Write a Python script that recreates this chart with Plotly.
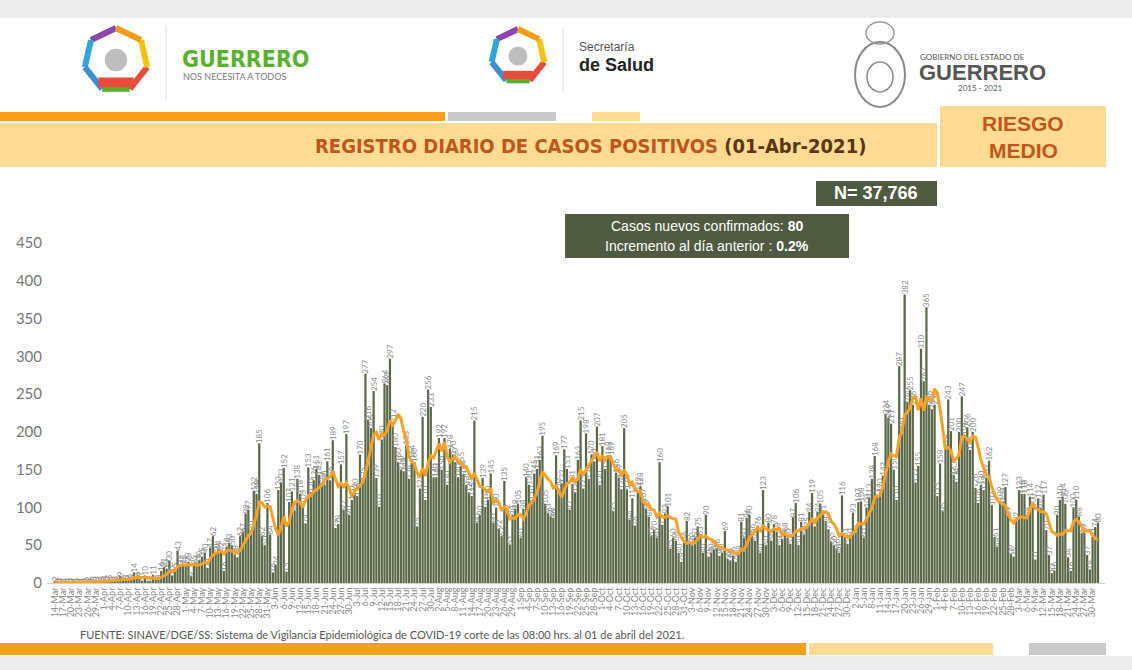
import math
import pandas as pd
import plotly.graph_objects as go

# ---------------- data (daily positive cases, Guerrero) ----------------
inicio = "2020-03-14"
mar_2020 = [2, 0, 0, 1, 1, 0, 0, 1, 0, 1, 1, 0, 2, 1, 3, 3, 2, 3]
abr_2020 = [4, 3, 5, 3, 2, 4, 9, 5, 5, 6, 5, 14, 8, 9, 3, 10, 3, 3, 11, 5,
            5, 16, 21, 19, 30, 10, 15, 43, 25, 25]
may_2020 = [23, 28, 9, 25, 26, 30, 35, 40, 20, 47, 62, 40, 44, 42, 16, 48, 53, 50, 38, 34,
            62, 67, 92, 97, 70, 122, 118, 185, 62, 50, 106]
jun_2020 = [64, 14, 24, 123, 133, 152, 15, 107, 121, 96, 138, 118, 105, 79, 153, 120, 136, 151, 143, 128,
            130, 161, 136, 189, 73, 78, 157, 97, 197, 90]
jul_2020 = [110, 120, 115, 170, 135, 277, 216, 205, 254, 139, 101, 190, 264, 262, 297, 212, 180, 160, 150, 148,
            183, 138, 164, 160, 75, 125, 220, 110, 256, 233, 140]
ago_2020 = [140, 192, 150, 192, 130, 178, 170, 160, 140, 155, 144, 130, 120, 115, 215, 80, 90, 139, 101, 110,
            145, 80, 100, 72, 62, 135, 92, 51, 90, 98, 105]
sep_2020 = [60, 98, 140, 130, 110, 145, 151, 163, 195, 105, 93, 88, 86, 169, 120, 132, 177, 151, 97, 131,
            120, 163, 215, 125, 198, 138, 170, 161, 207, 130]
oct_2020 = [181, 151, 169, 169, 95, 146, 139, 124, 205, 124, 84, 112, 76, 122, 128, 107, 98, 88, 62, 70,
            60, 160, 77, 92, 101, 45, 60, 56, 40, 28, 56]
nov_2020 = [82, 55, 50, 60, 75, 63, 40, 90, 35, 40, 44, 46, 36, 40, 69, 32, 30, 36, 28, 38,
            81, 60, 86, 90, 66, 56, 76, 40, 123, 50]
dic_2020 = [80, 56, 78, 68, 50, 58, 68, 60, 52, 87, 106, 50, 81, 64, 75, 94, 119, 75, 94, 105,
            91, 82, 71, 55, 50, 46, 40, 116, 61, 52, 60]
ene_2021 = [93, 66, 107, 108, 60, 100, 113, 138, 168, 113, 120, 142, 224, 219, 211, 150, 110, 287, 200, 382,
            240, 255, 236, 133, 155, 310, 267, 365, 236, 230, 236]
feb_2021 = [115, 158, 95, 178, 243, 201, 143, 134, 200, 247, 196, 206, 176, 200, 126, 106, 130, 123, 139, 162,
            103, 61, 48, 109, 108, 127, 89, 39]
mar_2021 = [35, 82, 123, 118, 118, 88, 114, 100, 31, 112, 99, 117, 70, 37, 13, 16, 90, 110, 114, 105,
            34, 16, 100, 110, 88, 66, 67, 37, 18, 61, 74]
abr_2021 = [80]

casos = (mar_2020 + abr_2020 + may_2020 + jun_2020 + jul_2020 + ago_2020 + sep_2020 +
         oct_2020 + nov_2020 + dic_2020 + ene_2021 + feb_2021 + mar_2021 + abr_2021)
fechas = pd.date_range(inicio, periods=len(casos), freq="D")
promedio = pd.Series(casos).rolling(7, min_periods=1).mean()

tick_fechas = list(fechas[::3])
tick_textos = [f"{d.day}-{d.strftime('%b')}" for d in tick_fechas]

titulo = "REGISTRO DIARIO DE CASOS POSITIVOS"
fecha_corte = "(01-Abr-2021)"
total_n = "N= 37,766"
nuevos = 80
incremento = "0.2%"
fuente = ("FUENTE: SINAVE/DGE/SS: Sistema de Vigilancia Epidemiológica de COVID-19 "
          "corte de las 08:00 hrs. al 01 de abril del 2021.")

# ---------------- geometry helpers ----------------
W, H = 1132, 670
L, R, T, B = 47, 27, 243, 87
PW, PH = W - L - R, H - T - B


def fx(x):
    return (x - L) / PW


def fy(y):
    return (H - B - y) / PH


OLIVA = "#5b6847"
NARANJA = "#f9a01b"
AMARILLO = "#fddb92"
GRIS = "#c9c9c9"
OXIDO = "#c0561b"

fig = go.Figure()

fig.add_trace(go.Bar(
    x=fechas, y=casos,
    marker=dict(color=OLIVA, line=dict(width=0)),
    text=[str(v) for v in casos],
    textposition="outside",
    textangle=-90,
    constraintext="none",
    cliponaxis=False,
    textfont=dict(size=8, color="#8c8c8c", family="Lato, Open Sans, sans-serif"),
    hoverinfo="x+y",
))

fig.add_trace(go.Scatter(
    x=fechas, y=promedio, mode="lines",
    line=dict(color="#f7a128", width=3),
    hoverinfo="skip",
))

# x range so first bar sits at ~55px and last at ~1098px
px_dia = (1098 - 55) / (len(casos) - 1)
x0 = fechas[0] - pd.Timedelta(days=(55 - L) / px_dia)
x1 = x0 + pd.Timedelta(days=PW / px_dia)

shapes = []
annots = []


def rect(x0_, y0_, x1_, y1_, color, line=None):
    shapes.append(dict(type="rect", xref="paper", yref="paper",
                       x0=fx(x0_), x1=fx(x1_), y0=fy(y1_), y1=fy(y0_),
                       fillcolor=color, line=dict(width=0) if line is None else line,
                       layer="above"))


def texto(x, y, s, size, color, family="Lato, sans-serif", xanchor="center", bold=False):
    if bold:
        s = f"<b>{s}</b>"
    annots.append(dict(x=fx(x), y=fy(y), xref="paper", yref="paper", text=s,
                       showarrow=False, xanchor=xanchor, yanchor="middle",
                       font=dict(size=size, color=color, family=family)))


# page strips
rect(0, 0, W, 18, "#ececec")
rect(0, 656, W, H, "#ececec")

# header decoration bars
rect(0, 112, 445, 121, NARANJA)
rect(448, 112, 556, 121, GRIS)
rect(592, 112, 640, 121, AMARILLO)
rect(0, 123, 937, 167, AMARILLO)
rect(940, 106, 1106, 167, AMARILLO)

# bottom bars
rect(0, 643, 806, 655, NARANJA)
rect(809, 643, 993, 655, AMARILLO)
rect(1029, 643, 1106, 655, GRIS)

# info boxes
rect(816, 181, 937, 206, "#4f5a41")
rect(565, 214, 849, 258, "#4f5a41")


# simple logo approximations (ring of coloured strokes)
def logo(cx, cy, r):
    colores = ["#8e44ad", "#2ea7d8", "#3a8fd0", "#5cb030", "#e84a3c", "#f4c20d", "#f39c12"]
    n = len(colores)
    for k, c in enumerate(colores):
        a0 = math.pi / 2 + 2 * math.pi * k / n
        a1 = math.pi / 2 + 2 * math.pi * (k + 1) / n
        xa, ya = cx + r * math.cos(a0), cy - r * math.sin(a0)
        xb, yb = cx + r * math.cos(a1), cy - r * math.sin(a1)
        shapes.append(dict(type="line", xref="paper", yref="paper",
                           x0=fx(xa), y0=fy(ya), x1=fx(xb), y1=fy(yb),
                           line=dict(color=c, width=6)))
    rect(cx - r * 0.55, cy + r * 0.55, cx + r * 0.55, cy + r * 0.85, "#e84a3c")
    shapes.append(dict(type="circle", xref="paper", yref="paper",
                       x0=fx(cx - r * 0.35), x1=fx(cx + r * 0.35),
                       y0=fy(cy + r * 0.35), y1=fy(cy - r * 0.35),
                       fillcolor="#bdbdbd", line=dict(width=0)))


logo(116, 60, 32)
logo(518, 56, 27)
shapes.append(dict(type="line", xref="paper", yref="paper", x0=fx(166), x1=fx(166),
                   y0=fy(25), y1=fy(100), line=dict(color="#dddddd", width=1)))
shapes.append(dict(type="line", xref="paper", yref="paper", x0=fx(563), x1=fx(563),
                   y0=fy(28), y1=fy(92), line=dict(color="#dddddd", width=1)))
# coat of arms (outline)
shapes.append(dict(type="circle", xref="paper", yref="paper",
                   x0=fx(855), x1=fx(905), y0=fy(107), y1=fy(42),
                   fillcolor="rgba(0,0,0,0)", line=dict(color="#8a8a8a", width=2)))
shapes.append(dict(type="circle", xref="paper", yref="paper",
                   x0=fx(867), x1=fx(893), y0=fy(92), y1=fy(62),
                   fillcolor="rgba(0,0,0,0)", line=dict(color="#8a8a8a", width=1.5)))
shapes.append(dict(type="circle", xref="paper", yref="paper",
                   x0=fx(866), x1=fx(894), y0=fy(44), y1=fy(22),
                   fillcolor="rgba(0,0,0,0)", line=dict(color="#9a9a9a", width=1.5)))

# header texts
texto(180, 59, "GUERRERO", 23, "#5cb030", family="Liberation Sans Narrow, DejaVu Sans Condensed, sans-serif",
      xanchor="left", bold=True)
texto(181, 76, "NOS NECESITA A TODOS", 9, "#777777", xanchor="left")
texto(577, 47, "Secretaría", 12, "#555555", family="Liberation Sans Narrow, sans-serif", xanchor="left")
texto(577, 65, "de Salud", 18, "#222222", family="Liberation Sans Narrow, sans-serif", xanchor="left", bold=True)
texto(918, 57, "GOBIERNO DEL ESTADO DE", 8, "#555555", xanchor="left")
texto(917, 72, "GUERRERO", 22, "#555555", family="Liberation Sans Narrow, sans-serif", xanchor="left", bold=True)
texto(980, 88, "2015 - 2021", 8, "#555555")

annots.append(dict(x=fx(590), y=fy(146), xref="paper", yref="paper", showarrow=False,
                   xanchor="center", yanchor="middle",
                   text=f"<b><span style='color:{OXIDO}'>{titulo}</span> "
                        f"<span style='color:#5a3510'>{fecha_corte}</span></b>",
                   font=dict(size=20, family="Liberation Sans Narrow, DejaVu Sans Condensed, sans-serif")))
texto(1023, 124, "RIESGO", 21, OXIDO, family="Liberation Sans Narrow, sans-serif", bold=True)
texto(1023, 150, "MEDIO", 21, OXIDO, family="Liberation Sans Narrow, sans-serif", bold=True)

texto(876, 193, total_n, 18, "white", family="Liberation Sans Narrow, sans-serif", bold=True)
texto(707, 226, f"Casos nuevos confirmados: <b>{nuevos}</b>", 14, "white",
      family="Liberation Sans Narrow, sans-serif")
texto(707, 246, f"Incremento al día anterior : <b>{incremento}</b>", 14, "white",
      family="Liberation Sans Narrow, sans-serif")

texto(78, 634, fuente, 11, "#555555", xanchor="left")

fig.update_layout(
    width=W, height=H,
    margin=dict(l=L, r=R, t=T, b=B),
    paper_bgcolor="white", plot_bgcolor="white",
    showlegend=False,
    bargap=0.18,
    shapes=shapes,
    annotations=annots,
    xaxis=dict(
        type="date", range=[x0, x1],
        tickmode="array", tickvals=tick_fechas, ticktext=tick_textos,
        tickangle=-90, tickfont=dict(size=9, color="#888888", family="Lato, sans-serif"),
        showgrid=False, showline=True, linecolor="#d0d0d0", linewidth=1,
        ticks="", zeroline=False,
    ),
    yaxis=dict(
        range=[0, 450], tickmode="array", tickvals=list(range(0, 451, 50)),
        tickfont=dict(size=15, color="#777777", family="Lato, sans-serif"),
        showgrid=False, zeroline=False, showline=False, ticks="",
        ticklabelstandoff=4,
    ),
)

fig.write_html(
    "out.html",
    config={"displayModeBar": False},
    post_script="document.body.style.margin='0px';document.body.style.overflow='hidden';",
)
